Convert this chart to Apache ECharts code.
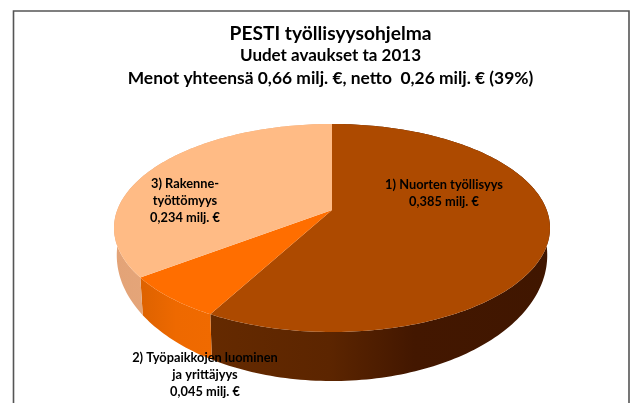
<!DOCTYPE html>
<html><head><meta charset="utf-8">
<style>html,body{margin:0;padding:0;background:#fff}#c{width:630px;height:403px}</style>
<script src="https://cdn.jsdelivr.net/npm/echarts@6/dist/echarts.min.js"></script>
</head><body><div id="c"></div>
<script>
const categories = ['1) Nuorten työllisyys', '2) Työpaikkojen luominen ja yrittäjyys', '3) Rakenne-työttömyys'];
const values = [0.385, 0.045, 0.234];
const labelLines = [
  ['1) Nuorten työllisyys', '0,385 milj. €'],
  ['2) Työpaikkojen luominen', 'ja yrittäjyys', '0,045 milj. €'],
  ['3) Rakenne-', 'työttömyys', '0,234 milj. €']
];
const titleLines = ['PESTI työllisyysohjelma', 'Uudet avaukset ta 2013', 'Menot yhteensä 0,66 milj. €, netto  0,26 milj. € (39%)'];

const topColors = ['#AD4A00', '#FF6E00', '#FFBB85'];
const wallStops = [
  [[0, '#652A00'], [0.35, '#5C2500'], [0.6, '#431700'], [1, '#401600']],
  [[0, '#DD6200'], [0.5, '#EE6900'], [1, '#F06A00']],
  [[0, '#E3A377'], [0.5, '#E8AA7E'], [1, '#E8AA7E']]
];
const labelAt = [[444, 185], [205, 358], [185, 184]];

const total = values.reduce((a, b) => a + b, 0);
const CX = 332, CY = 210, K = 0.173, A = 100.9, B = 214.7;
const BCX = 332, BCY = 233.5, BA = 122, BB = 212;
function topPt(t) {
  const u = Math.sin(t), v = Math.cos(t), w = 1 + K * v;
  return [CX + B * u / w, CY - A * v / w];
}
function botPt(t) {
  const u = Math.sin(t), v = Math.cos(t), w = 1 + K * v;
  return [BCX + BB * u / w, BCY - BA * v / w];
}
function sliceRange(i) {
  let s = 0;
  for (let j = 0; j < i; j++) s += values[j];
  return [s / total * Math.PI * 2, (s + values[i]) / total * Math.PI * 2];
}
function arc(fn, a, b) {
  const n = Math.max(8, Math.ceil((b - a) / 0.02)), out = [];
  for (let i = 0; i <= n; i++) out.push(fn(a + (b - a) * i / n));
  return out;
}
const data = values.map((v, i) => ({ name: categories[i], value: [i, v] }));
const T = (text, top, fontSize) => ({ text, left: 325.5, top, textAlign: 'center', textStyle: { fontFamily: 'Lato', fontWeight: 'bold', fontSize, color: '#000' } });

const option = {
  animation: false,
  title: [T(titleLines[0], 19, 19.2), T(titleLines[1], 42.5, 17), T(titleLines[2], 65, 17.4)],
  graphic: [{ type: 'rect', silent: true, z: 0, shape: { x: 13.5, y: 11, width: 615.5, height: 500 }, style: { fill: '#fff', stroke: '#555', lineWidth: 1.6 } }],
  series: [
    {
      type: 'custom', coordinateSystem: 'none', z: 2, silent: true, data,
      renderItem(params, api) {
        const i = api.value(0), r = sliceRange(i);
        const t = arc(topPt, r[0], r[1]), b = arc(botPt, r[0], r[1]).reverse();
        return { type: 'polygon', shape: { points: t.concat(b) }, style: {
          fill: new echarts.graphic.LinearGradient(0, 0, 1, 0, wallStops[i].map(s => ({ offset: s[0], color: s[1] })))
        } };
      }
    },
    {
      type: 'custom', coordinateSystem: 'none', z: 3, silent: true, data,
      renderItem(params, api) {
        const i = api.value(0), r = sliceRange(i);
        return { type: 'polygon', shape: { points: [[CX, CY]].concat(arc(topPt, r[0], r[1])) }, style: { fill: topColors[i] } };
      }
    },
    {
      type: 'custom', coordinateSystem: 'none', z: 4, silent: true, data,
      renderItem(params, api) {
        const i = api.value(0);
        return { type: 'group', children: labelLines[i].map((line, n) => ({
          type: 'text', style: { text: line, x: labelAt[i][0], y: labelAt[i][1] + n * 17, align: 'center', verticalAlign: 'middle',
            fontFamily: 'Lato', fontWeight: 'bold', fontSize: 12.8, fill: '#000' }
        })) };
      }
    }
  ]
};
echarts.init(document.getElementById('c')).setOption(option);
</script></body></html>
